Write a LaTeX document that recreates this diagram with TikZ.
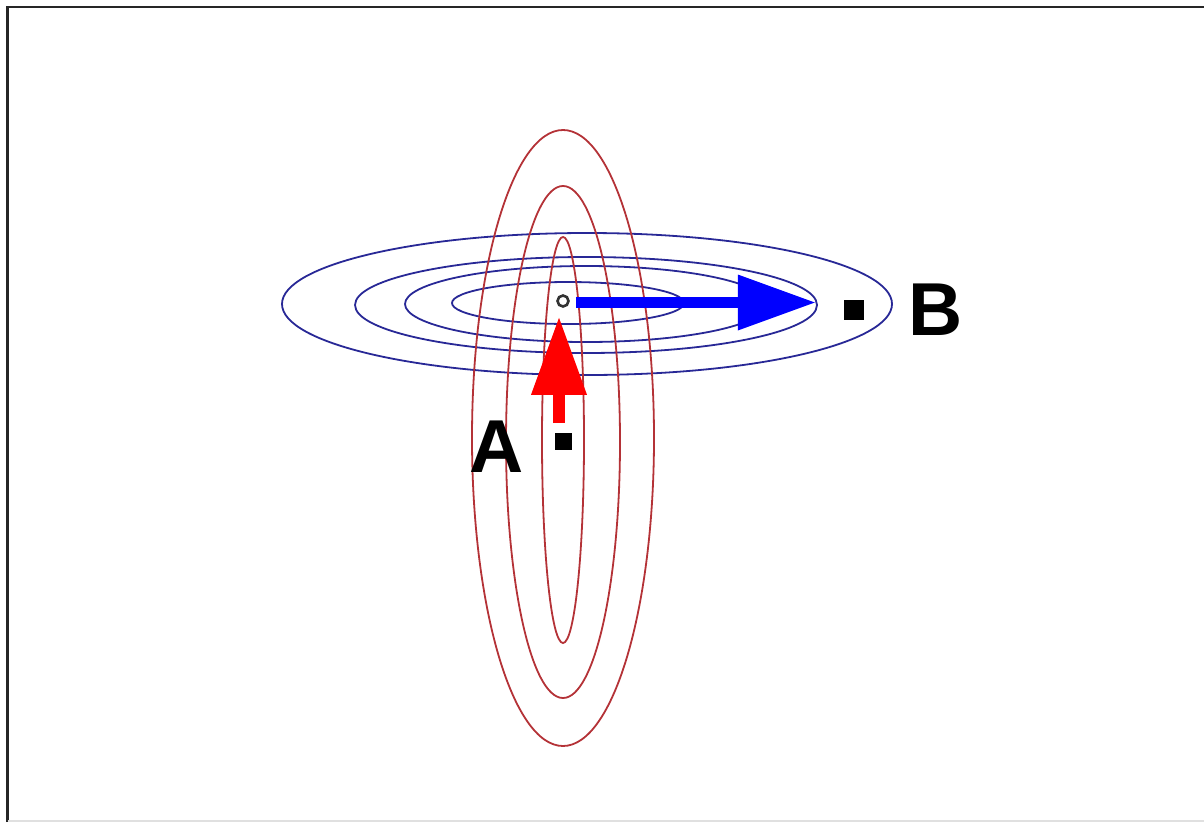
\documentclass[tikz,border=0pt]{standalone}
\usepackage{fontspec}
\setmainfont{Liberation Sans}
\usepackage{tikz}
\usetikzlibrary{positioning, arrows.meta, calc}
\definecolor{contourblue}{RGB}{40,40,150}
\definecolor{contourred}{RGB}{180,50,55}
\tikzset{
	bluering/.style={draw=contourblue, line width=1.8pt}
}
\tikzset{
	redring/.style={draw=contourred, line width=1.8pt}
}
\tikzset{
	dotsq/.style={fill=black, inner sep=0pt, minimum size=#1},
	ptlabel/.style={inner sep=0pt, font=\fontsize{75}{75}\selectfont\bfseries},
	pusharrow/.style={line width=#1, -{Triangle[width=56pt, length=77pt, line width=0pt]}}
}

\begin{document}
\begin{tikzpicture}[x=1pt, y=-1pt]
      \useasboundingbox (0,0) rectangle (1204,822);
      % frame
      \draw[black!85, line width=2.4pt] (7.5,822) -- (7.5,7) -- (1204,7);
      \draw[black!12, line width=1.5pt] (7.5,821) -- (1204,821);
      % blue contours
      \draw[bluering] (587,304) ellipse [x radius=305pt, y radius=71pt];
      \draw[bluering] (586,305) ellipse [x radius=231pt, y radius=48pt];
      \draw[bluering] (586,304) ellipse [x radius=181pt, y radius=38pt];
      \draw[bluering] (568,303) ellipse [x radius=116pt, y radius=21pt];
      % red contours
      \draw[redring] (563,438) ellipse [x radius=91pt, y radius=308pt];
      \draw[redring] (563,442) ellipse [x radius=57pt, y radius=256pt];
      \draw[redring] (563,440) ellipse [x radius=21pt, y radius=203pt];
      % points
      \node[draw=black!80, circle, line width=2.6pt, inner sep=0pt,
            minimum width=11pt] (origin) at (563,301) {};
      \node[dotsq=17pt] (ptA) at (563,441) {};
      \node[dotsq=20pt] (ptB) at (854,310) {};
      \node[ptlabel, left=30pt of ptA, yshift=-6pt] (labelA) {A};
      \node[ptlabel, right=44pt of ptB] (labelB) {B};
      % steps
      \coordinate (redtail) at (559,423);
      \draw[pusharrow=12pt, red, shorten >=10pt] (redtail) -- (redtail |- origin.south);
      \draw[pusharrow=11pt, blue, shorten <=6pt, shorten >=29pt]
            ($(origin.east)+(0,1.5)$) -- ($(origin.east -| ptB.west)+(0,1.5)$);
    \end{tikzpicture}
\end{document}
